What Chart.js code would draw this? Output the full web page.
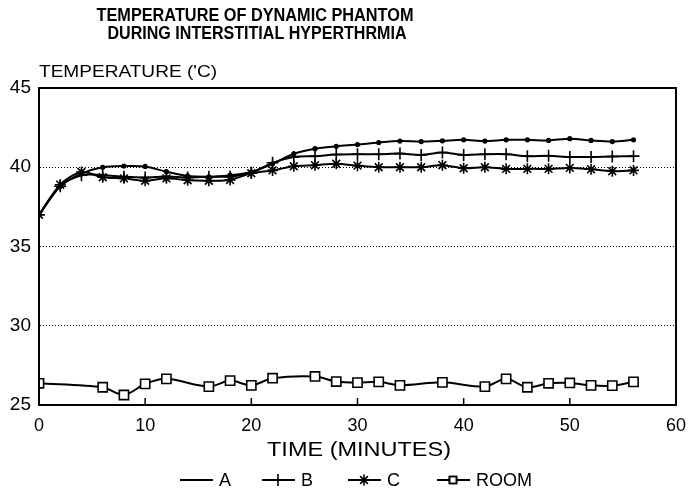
<!DOCTYPE html>
<html><head><meta charset="utf-8">
<script src="https://cdn.jsdelivr.net/npm/chart.js@4/dist/chart.umd.min.js"></script>
<style>html,body{margin:0;padding:0;background:#fff}#wrap{width:696px;height:492px}</style>
</head><body><div id="wrap"><canvas id="c" width="696" height="492"></canvas></div>
<script>
const titleLines = ["TEMPERATURE OF DYNAMIC PHANTOM", "DURING INTERSTITIAL HYPERTHRMIA"];
const yAxisTitle = "TEMPERATURE ('C)";
const xAxisTitle = "TIME (MINUTES)";
const xTicks = [0, 10, 20, 30, 40, 50, 60];
const yTicks = [25, 30, 35, 40, 45];
const seriesLabels = ["A", "B", "C", "ROOM"];

const times = [0,2,4,6,8,10,12,14,16,18,20,22,24,26,28,30,32,34,36,38,40,42,44,46,48,50,52,54,56];
const seriesA = [37.0,38.8,39.6,40.0,40.08,40.05,39.72,39.45,39.4,39.5,39.7,40.22,40.85,41.17,41.32,41.43,41.56,41.65,41.62,41.67,41.73,41.65,41.73,41.73,41.69,41.8,41.69,41.62,41.73];
const seriesB = [37.0,38.8,39.5,39.5,39.4,39.35,39.42,39.35,39.4,39.42,39.65,40.28,40.65,40.7,40.8,40.82,40.82,40.86,40.78,40.93,40.78,40.82,40.82,40.7,40.72,40.65,40.65,40.68,40.7];
const seriesC = [37.0,38.9,39.7,39.37,39.3,39.15,39.3,39.18,39.15,39.2,39.62,39.8,40.06,40.13,40.22,40.1,40.0,40.0,40.0,40.13,39.94,40.0,39.9,39.9,39.9,39.96,39.87,39.75,39.8];
const roomTimes = [0,6,8,10,12,16,18,20,22,26,28,30,32,34,38,42,44,46,48,50,52,54,56];
const roomValues = [26.37,26.12,25.63,26.33,26.65,26.16,26.54,26.24,26.69,26.8,26.48,26.41,26.46,26.24,26.43,26.16,26.65,26.12,26.37,26.39,26.24,26.22,26.46];

const pts = (xs, ys) => xs.map((x, i) => ({x: x, y: ys[i]}));

function fitText(ctx, text, cx, cy, targetW) {
  const w = ctx.measureText(text).width;
  const s = targetW / w;
  ctx.save();
  ctx.translate(cx, cy);
  ctx.scale(s, 1);
  ctx.textAlign = 'center';
  ctx.textBaseline = 'middle';
  ctx.fillText(text, 0, 0);
  ctx.restore();
}

function drawMarker(ctx, style, r, x, y) {
  if (Chart.helpers && Chart.helpers.drawPoint) {
    Chart.helpers.drawPoint(ctx, {pointStyle: style, radius: r, rotation: 0, borderWidth: 1.6}, x, y);
    if (style === 'rect') { ctx.stroke(); }
  }
}

const decor = {
  id: 'decor',
  afterDraw(chart) {
    const ctx = chart.ctx;
    const a = chart.chartArea;
    const xs = chart.scales.x;
    ctx.save();
    ctx.fillStyle = '#000';
    ctx.strokeStyle = '#000';
    // frame
    ctx.lineWidth = 2;
    ctx.strokeRect(a.left, a.top, a.right - a.left, a.bottom - a.top);
    // inward x ticks
    ctx.lineWidth = 1.5;
    xTicks.slice(1, -1).forEach(v => {
      const px = xs.getPixelForValue(v);
      ctx.beginPath(); ctx.moveTo(px, a.bottom); ctx.lineTo(px, a.bottom - 7); ctx.stroke();
    });
    // titles
    ctx.font = 'bold 18px "Liberation Sans", Arial, sans-serif';
    fitText(ctx, titleLines[0], 255, 16, 317);
    fitText(ctx, titleLines[1], 257, 34, 299);
    ctx.font = '16px "Liberation Sans", Arial, sans-serif';
    fitText(ctx, yAxisTitle, 128, 73, 178);
    ctx.font = '21px "Liberation Sans", Arial, sans-serif';
    fitText(ctx, xAxisTitle, 359, 450, 184);
    // legend
    const starts = [180, 262, 348, 437];
    ctx.font = '18px "Liberation Sans", Arial, sans-serif';
    ctx.textAlign = 'left';
    ctx.textBaseline = 'middle';
    const ly = 480;
    chart.data.datasets.forEach((ds, i) => {
      const x0 = starts[i];
      ctx.lineWidth = 1.8;
      ctx.strokeStyle = '#000';
      ctx.beginPath(); ctx.moveTo(x0, ly); ctx.lineTo(x0 + 33, ly); ctx.stroke();
      ctx.lineWidth = 1.6;
      const r = ds.pointStyle === 'rect' ? 5 : (ds.pointStyle === 'circle' ? 0 : ds.pointRadius);
      if (r > 0) {
        ctx.fillStyle = ds.pointStyle === 'rect' ? '#fff' : '#000';
        drawMarker(ctx, ds.pointStyle, r, x0 + 16, ly);
      }
      ctx.fillStyle = '#000';
      ctx.fillText(ds.label, x0 + 39, ly + 1);
    });
    ctx.restore();
  }
};

const common = {borderColor: '#000', borderWidth: 2, pointBorderColor: '#000', pointBorderWidth: 1.6, tension: 0.3, fill: false};

new Chart(document.getElementById('c'), {
  type: 'line',
  data: {
    datasets: [
      Object.assign({label: seriesLabels[0], data: pts(times, seriesA), pointStyle: 'circle', pointRadius: 1.8, pointBackgroundColor: '#000'}, common),
      Object.assign({label: seriesLabels[1], data: pts(times, seriesB), pointStyle: 'cross', pointRadius: 6, pointBackgroundColor: '#000'}, common),
      Object.assign({label: seriesLabels[2], data: pts(times, seriesC), pointStyle: 'star', pointRadius: 5.5, pointBackgroundColor: '#000'}, common),
      Object.assign({label: seriesLabels[3], data: pts(roomTimes, roomValues), pointStyle: 'rect', pointRadius: 6.5, pointBackgroundColor: '#fff'}, common)
    ]
  },
  options: {
    responsive: false,
    animation: false,
    devicePixelRatio: 1,
    layout: {padding: {top: 88, right: 15, left: 0, bottom: 0}},
    plugins: {legend: {display: false}, title: {display: false}, tooltip: {enabled: false}},
    scales: {
      x: {
        type: 'linear', min: 0, max: 60,
        afterBuildTicks: s => { s.ticks = xTicks.map(v => ({value: v})); },
        afterFit: s => { s.height = 87; },
        grid: {display: false, drawTicks: false},
        border: {display: true, color: '#000', width: 2},
        ticks: {color: '#000', padding: 10, maxRotation: 0, font: {family: '"Liberation Sans", Arial, sans-serif', size: 18}}
      },
      y: {
        type: 'linear', min: 25, max: 45,
        afterBuildTicks: s => { s.ticks = yTicks.map(v => ({value: v})); },
        afterFit: s => { s.width = 39; },
        grid: {color: '#000', lineWidth: 1, drawTicks: false},
        border: {display: true, color: '#000', width: 2, dash: [1, 2]},
        ticks: {color: '#000', padding: 8, font: {family: '"Liberation Sans", Arial, sans-serif', size: 19}}
      }
    }
  },
  plugins: [decor]
});
</script>
</body></html>
